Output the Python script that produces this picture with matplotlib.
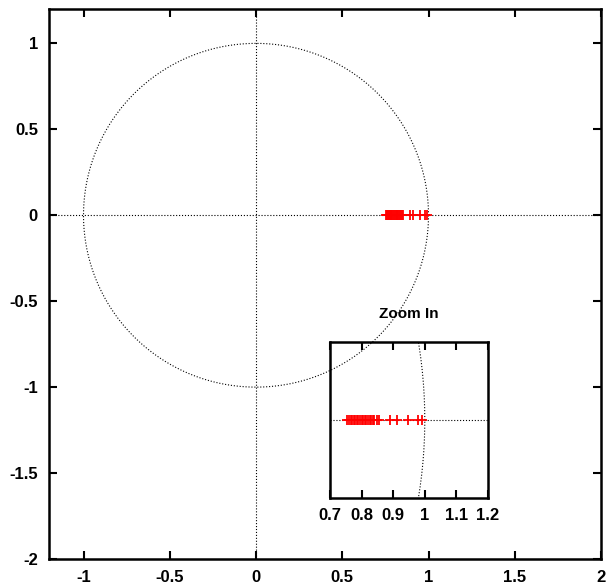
import matplotlib.pyplot as plt
import numpy as np

plt.rcParams['font.family'] = ['Liberation Sans', 'DejaVu Sans']
plt.rcParams['font.weight'] = 'bold'

# eigenvalue-like points on the real axis (imag part zero)
re_vals = [0.755, 0.76, 0.765, 0.77, 0.775, 0.78, 0.785, 0.79, 0.795, 0.80,
           0.805, 0.81, 0.815, 0.82, 0.825, 0.83, 0.835, 0.84, 0.848, 0.855,
           0.89, 0.913, 0.948, 0.977, 0.99]
im_vals = [0.0] * len(re_vals)

main_xticks = [-1, -0.5, 0, 0.5, 1, 1.5, 2]
main_xlabels = ['-1', '-0.5', '0', '0.5', '1', '1.5', '2']
main_yticks = [-2, -1.5, -1, -0.5, 0, 0.5, 1]
main_ylabels = ['-2', '-1.5', '-1', '-0.5', '0', '0.5', '1']
zoom_xticks = [0.7, 0.8, 0.9, 1, 1.1, 1.2]
zoom_xlabels = ['0.7', '0.8', '0.9', '1', '1.1', '1.2']

theta = np.linspace(0, 2 * np.pi, 400)

fig = plt.figure(figsize=(6.06, 5.86), dpi=100)
W, H = 606, 586

ax = fig.add_axes([49 / W, 27 / H, 552 / W, 550 / H])
ax.plot(np.cos(theta), np.sin(theta), ls=':', color='black', lw=0.8)
ax.axhline(0, ls=':', color='black', lw=0.8)
ax.axvline(0, ls=':', color='black', lw=0.8)
ax.plot(re_vals, im_vals, '+', color='red', ms=6.5, mew=1.3)
ax.set_xlim(-1.2, 2)
ax.set_ylim(-2, 1.2)
ax.set_xticks(main_xticks)
ax.set_xticklabels(main_xlabels)
ax.set_yticks(main_yticks)
ax.set_yticklabels(main_ylabels)
ax.tick_params(direction='in', length=6, width=1.5, top=True, right=True,
               labelsize=12, pad=8)
for s in ax.spines.values():
    s.set_linewidth(1.8)

ax2 = fig.add_axes([330 / W, 88 / H, 158 / W, 156 / H])
ax2.patch.set_alpha(0)
ax2.plot(np.cos(theta), np.sin(theta), ls=':', color='black', lw=0.8)
ax2.axhline(0, ls=':', color='black', lw=0.8)
ax2.plot(re_vals, im_vals, '+', color='red', ms=6.5, mew=1.3)
ax2.set_xlim(0.7, 1.2)
ax2.set_ylim(-0.2, 0.2)
ax2.set_xticks(zoom_xticks)
ax2.set_xticklabels(zoom_xlabels)
ax2.set_yticks([])
ax2.tick_params(direction='in', length=6, width=1.5, top=True,
                labelsize=12, pad=7)
for s in ax2.spines.values():
    s.set_linewidth(1.8)
ax2.set_title('Zoom In', fontsize=11, fontweight='bold', pad=17)

fig.savefig('out.png', dpi=100)
